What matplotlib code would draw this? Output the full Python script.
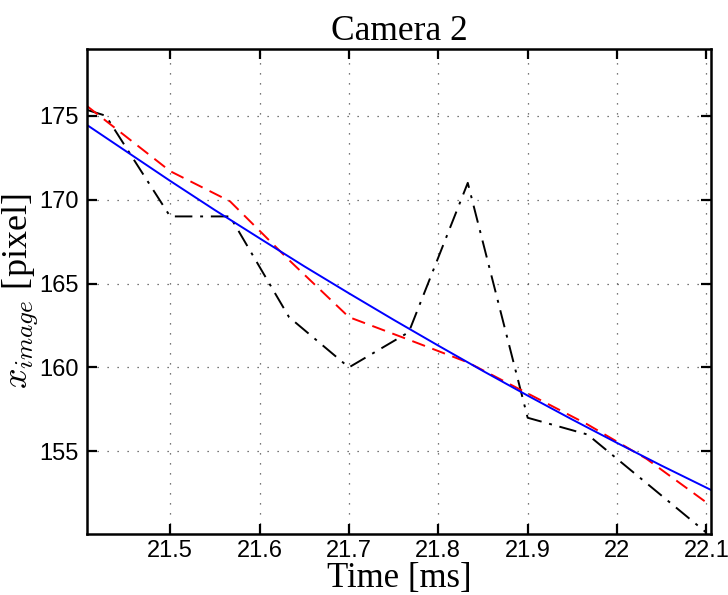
import matplotlib
matplotlib.use("Agg")
import matplotlib.pyplot as plt

plt.rcParams['mathtext.fontset'] = 'cm'

# measured image position (black), smoothed estimate (red), fitted trajectory (blue)
t_meas = [21.407, 21.428, 21.5, 21.567, 21.633, 21.7, 21.767, 21.833, 21.9, 21.967, 22.033, 22.1]
x_meas = [175.35, 175.0, 169.0, 169.0, 163.0, 160.0, 162.1, 171.0, 157.0, 156.0, 153.1, 150.15]

t_filt = [21.407, 21.5, 21.567, 21.633, 21.7, 21.767, 21.833, 21.9, 21.967, 22.033, 22.1]
x_filt = [175.58, 171.7, 169.9, 166.4, 163.0, 161.65, 160.3, 158.45, 156.6, 154.55, 151.95]

t_fit = [21.407, 21.45, 21.5, 21.55, 21.6, 21.65, 21.7, 21.75, 21.8, 21.85,
         21.9, 21.95, 22.0, 22.05, 22.105]
x_fit = [174.45, 172.91, 171.12, 169.38, 167.70, 166.03, 164.42, 162.84, 161.30, 159.79,
         158.32, 156.89, 155.50, 154.14, 152.70]

xticks = [21.5, 21.6, 21.7, 21.8, 21.9, 22.0, 22.1]
xticklabels = ['21.5', '21.6', '21.7', '21.8', '21.9', '22', '22.1']
yticks = [155, 160, 165, 170, 175]

fig = plt.figure(figsize=(7.28, 5.95), dpi=100)
ax = fig.add_axes([0.1195, 0.1025, 0.857, 0.8146])

ax.plot(t_meas, x_meas, color='black', lw=1.4, linestyle=(0, (9, 4, 1.5, 4)))
ax.plot(t_filt, x_filt, color='red', lw=1.4, linestyle=(0, (7, 4)))
ax.plot(t_fit, x_fit, color='blue', lw=1.4)

ax.set_xlim(21.407, 22.105)
ax.set_ylim(150.07, 178.96)
ax.set_xticks(xticks)
ax.set_xticklabels(xticklabels)
ax.set_yticks(yticks)

ax.grid(True, color='0.3', linestyle=(0, (1, 7)), lw=0.9)
for s in ax.spines.values():
    s.set_linewidth(1.8)
ax.tick_params(direction='in', length=7, width=1.6, top=True, right=True,
               labelsize=17, pad=6)
ax.tick_params(axis='x', pad=4)
for lab in ax.get_xticklabels() + ax.get_yticklabels():
    lab.set_family('Liberation Sans')

ax.set_title('Camera 2', family='Liberation Serif', fontsize=25.5, pad=7)
ax.set_xlabel('Time [ms]', family='Liberation Serif', fontsize=25, labelpad=0)
ax.set_ylabel(r'$x_{image}$ [pixel]', family='Liberation Serif', fontsize=26, labelpad=-1)

fig.savefig('out.png', dpi=100)
